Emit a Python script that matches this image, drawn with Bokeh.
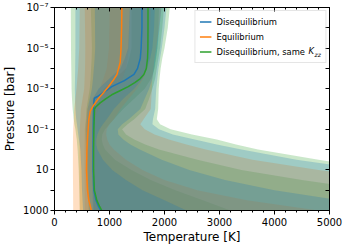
from bokeh.plotting import figure
from bokeh.models import (Range1d, LinearAxis, LogAxis, FixedTicker,
                          CustomJSTickFormatter, Legend, LegendItem, Label)
from bokeh.embed import file_html
from bokeh.resources import INLINE

# ---------------- data ----------------
# band pressure grid (log10 bar)
band_logp = [-7, -6, -5, -4.5, -4, -3.5, -3, -2.5, -2, -1.5, -1.25, -1,
             -0.75, -0.5, -0.25, 0, 0.5, 1, 1.5, 2, 2.5, 3]

# Disequilibrium (blue) confidence bands: lower / upper temperature [K]
blue_lo3 = [380, 380, 380, 378, 376, 373, 370, 374, 380, 395, 408, 420, 432, 445, 458, 470, 480, 490, 495, 500, 510, 520]
blue_hi3 = [2036, 2000, 1950, 1920, 1890, 1870, 1850, 1840, 1830, 1790, 1780, 1900, 2150, 2550, 2950, 3400, 4400, 5700, 7000, 8500, 10000, 11500]
blue_lo2 = [733, 737, 740, 730, 715, 700, 680, 640, 600, 590, 585, 580, 583, 585, 588, 590, 595, 600, 610, 620, 630, 640]
blue_hi2 = [1945, 1910, 1870, 1840, 1810, 1780, 1720, 1640, 1560, 1350, 1230, 1150, 1160, 1250, 1380, 1550, 1950, 2450, 3100, 4000, 5200, 6500]
blue_lo1 = [1370, 1355, 1340, 1280, 1200, 1000, 800, 700, 690, 688, 686, 685, 685, 685, 685, 685, 685, 685, 688, 690, 695, 700]
blue_hi1 = [1824, 1810, 1780, 1740, 1680, 1600, 1450, 1250, 1080, 950, 880, 820, 780, 760, 760, 780, 880, 1050, 1300, 1600, 2000, 2400]

# Equilibrium (orange)
orange_lo3 = [460, 455, 450, 440, 430, 415, 400, 380, 360, 350, 345, 340, 338, 336, 335, 335, 335, 335, 336, 338, 339, 340]
orange_hi3 = [1945, 1900, 1850, 1820, 1800, 1780, 1770, 1760, 1750, 1620, 1560, 1640, 1820, 2080, 2400, 2750, 3600, 4800, 6200, 7700, 9200, 10700]
orange_lo2 = [550, 555, 560, 558, 555, 548, 540, 510, 480, 470, 465, 460, 458, 457, 456, 455, 455, 455, 456, 458, 459, 460]
orange_hi2 = [1750, 1740, 1720, 1700, 1680, 1620, 1500, 1350, 1200, 1080, 1000, 950, 940, 960, 1000, 1080, 1300, 1600, 2000, 2600, 3500, 4800]
orange_lo1 = [1005, 998, 990, 970, 950, 890, 820, 680, 600, 575, 562, 550, 548, 547, 546, 545, 545, 545, 546, 548, 549, 550]
orange_hi1 = [1370, 1365, 1350, 1330, 1300, 1240, 1120, 940, 800, 730, 710, 700, 695, 692, 690, 690, 690, 690, 700, 720, 750, 800]

# Disequilibrium, same Kzz (green)
green_lo3 = [296, 298, 300, 302, 305, 308, 310, 318, 330, 350, 362, 380, 392, 405, 412, 420, 430, 440, 445, 450, 455, 460]
green_hi3 = [2096, 2060, 2000, 1960, 1930, 1910, 1895, 1890, 1885, 1860, 1920, 2110, 2500, 2950, 3300, 3700, 4800, 6000, 7500, 9000, 10500, 12000]
green_lo2 = [660, 670, 680, 675, 665, 655, 640, 610, 580, 570, 565, 560, 562, 565, 568, 570, 575, 580, 590, 600, 610, 620]
green_hi2 = [1990, 1960, 1920, 1890, 1860, 1830, 1780, 1720, 1650, 1450, 1330, 1230, 1300, 1450, 1650, 1900, 2600, 3400, 4500, 5800, 7000, 8500]
green_lo1 = [1400, 1400, 1400, 1360, 1300, 1100, 900, 760, 700, 695, 692, 690, 690, 690, 690, 690, 690, 690, 695, 700, 710, 720]
green_hi1 = [1900, 1890, 1870, 1850, 1820, 1760, 1640, 1450, 1250, 1080, 1000, 920, 870, 860, 880, 920, 1100, 1400, 1750, 2200, 2700, 3200]

# median profiles
blue_logp = [-7, -6, -5, -4.5, -4, -3.7, -3.4, -3.1, -2.9, -2.65, -2.53, -2.4, -2, -1, 0, 1, 2, 2.5, 2.8, 3]
blue_t = [1590, 1590, 1575, 1560, 1510, 1445, 1270, 1040, 940, 800, 725, 718, 712, 706, 703, 703, 715, 755, 800, 840]
orange_logp = [-7, -6, -5, -4.3, -3.7, -3.4, -3.1, -2.8, -2.5, -2.2, -1.9, -1.5, -1, -0.5, 0, 1, 2, 2.5, 3]
orange_t = [1225, 1220, 1210, 1195, 1135, 1065, 980, 890, 795, 715, 650, 625, 612, 600, 590, 582, 600, 625, 670]
green_logp = [-7, -6, -5, -4.5, -4, -3.7, -3.5, -3.3, -3.1, -2.9, -2.7, -2.5, -2.3, -2.1, -2, -1, 0, 1, 2, 2.5, 2.8, 3]
green_t = [1700, 1700, 1698, 1692, 1670, 1625, 1560, 1460, 1340, 1190, 1040, 930, 830, 750, 728, 716, 711, 711, 725, 770, 820, 860]

labels = ["Disequilibrium", "Equilibrium", "Disequilibrium, same"]
kzz_symbol = "K"
kzz_subscript = "zz"
x_ticks = [0, 1000, 2000, 3000, 4000, 5000]
y_tick_exps = [-7, -6, -5, -4, -3, -2, -1, 0, 1, 2, 3]
y_label_exps = [-7, -5, -3, -1, 1, 3]
y_label_text = ["10\u207b\u2077", "10\u207b\u2075", "10\u207b\u00b3", "10\u207b\u00b9", "10", "1000"]

# ---------------- plot ----------------
BLUE, ORANGE, GREEN = "#1f77b4", "#ff7f0e", "#2ca02c"
FONT = "DejaVu Sans"
FW, FH = 275, 203

band_p = [10 ** v for v in band_logp]

p = figure(frame_width=FW, frame_height=FH,
           x_range=Range1d(0, 5000), y_range=Range1d(1000, 1e-7),
           y_axis_type="log", output_backend="svg", toolbar_location=None,
           min_border_left=45, min_border_right=20, min_border_top=7,
           min_border_bottom=30)
p.grid.visible = False
p.outline_line_color = "black"
p.outline_line_width = 1
p.background_fill_color = "white"
p.border_fill_color = "white"

for color, bands in [(GREEN, [(green_lo3, green_hi3), (green_lo2, green_hi2), (green_lo1, green_hi1)]),
                     (ORANGE, [(orange_lo3, orange_hi3), (orange_lo2, orange_hi2), (orange_lo1, orange_hi1)]),
                     (BLUE, [(blue_lo3, blue_hi3), (blue_lo2, blue_hi2), (blue_lo1, blue_hi1)])]:
    for lo, hi in bands:
        p.harea(x1=lo, x2=hi, y=band_p, fill_color=color, fill_alpha=0.25)

rb = p.line(blue_t, [10 ** v for v in blue_logp], line_color=BLUE, line_width=1.5)
ro = p.line(orange_t, [10 ** v for v in orange_logp], line_color=ORANGE, line_width=1.5)
rg = p.line(green_t, [10 ** v for v in green_logp], line_color=GREEN, line_width=1.5)

# axes
xa = p.xaxis[0]
xa.ticker = FixedTicker(ticks=x_ticks, minor_ticks=list(range(0, 5001, 200)))
xa.axis_label = "Temperature [K]"
ya = p.yaxis[0]
ya.ticker = FixedTicker(ticks=[10 ** e for e in y_tick_exps], minor_ticks=[])
ya.formatter = CustomJSTickFormatter(args=dict(exps=y_label_exps, labs=y_label_text), code="""
const e = Math.round(Math.log10(tick));
const i = exps.indexOf(e);
return i >= 0 ? labs[i] : "";
""")
ya.axis_label = "Pressure [bar]"
for ax in (xa, ya):
    ax.major_label_text_font = FONT
    ax.major_label_text_font_size = "10px"
    ax.major_label_text_color = "black"
    ax.axis_label_text_font = FONT
    ax.axis_label_text_font_size = "12px"
    ax.axis_label_text_font_style = "normal"
    ax.axis_label_text_color = "black"
    ax.axis_line_color = "black"
    ax.major_tick_line_color = "black"
    ax.minor_tick_line_color = "black"
    ax.major_tick_out = 4
    ax.major_tick_in = 0
    ax.minor_tick_out = 2
    ax.minor_tick_in = 0
    ax.major_label_standoff = 2
    ax.axis_label_standoff = 3
xa.major_label_standoff = 3
xa.axis_label_standoff = 1

top = LinearAxis(ticker=FixedTicker(ticks=x_ticks, minor_ticks=list(range(0, 5001, 200))),
                 formatter=CustomJSTickFormatter(code='return "";'))
right = LogAxis(ticker=FixedTicker(ticks=[10 ** e for e in y_tick_exps], minor_ticks=[]),
                formatter=CustomJSTickFormatter(code='return "";'))
for ax in (top, right):
    ax.major_label_text_font_size = "1px"
    ax.major_label_standoff = 0
    ax.major_tick_out = 0
    ax.major_tick_in = 4
    ax.minor_tick_out = 0
    ax.minor_tick_in = 2
    ax.axis_line_color = "black"
    ax.major_tick_line_color = "black"
    ax.minor_tick_line_color = "black"
p.add_layout(top, "above")
p.add_layout(right, "right")

legend = Legend(items=[LegendItem(label=labels[0], renderers=[rb]),
                       LegendItem(label=labels[1], renderers=[ro]),
                       LegendItem(label=labels[2] + "      ", renderers=[rg])],
                location="top_right")
legend.margin = 3
legend.padding = 4
legend.spacing = 2
legend.glyph_width = 12
legend.glyph_height = 13
legend.label_height = 13
legend.label_standoff = 5
legend.label_text_font = FONT
legend.label_text_font_size = "8.4px"
legend.label_text_color = "black"
legend.border_line_color = "#cccccc"
legend.border_line_width = 1
legend.background_fill_alpha = 0.0
p.add_layout(legend)

p.add_layout(Label(x=254, y=FH - 43.5, x_units="screen", y_units="screen", text=kzz_symbol,
                   text_font=FONT, text_font_size="8.4px", text_font_style="italic",
                   text_baseline="middle", text_color="black"))
p.add_layout(Label(x=260, y=FH - 46.5, x_units="screen", y_units="screen", text=kzz_subscript,
                   text_font=FONT, text_font_size="6px", text_font_style="italic",
                   text_baseline="middle", text_color="black"))

open("out.html", "w").write(file_html(p, INLINE))
